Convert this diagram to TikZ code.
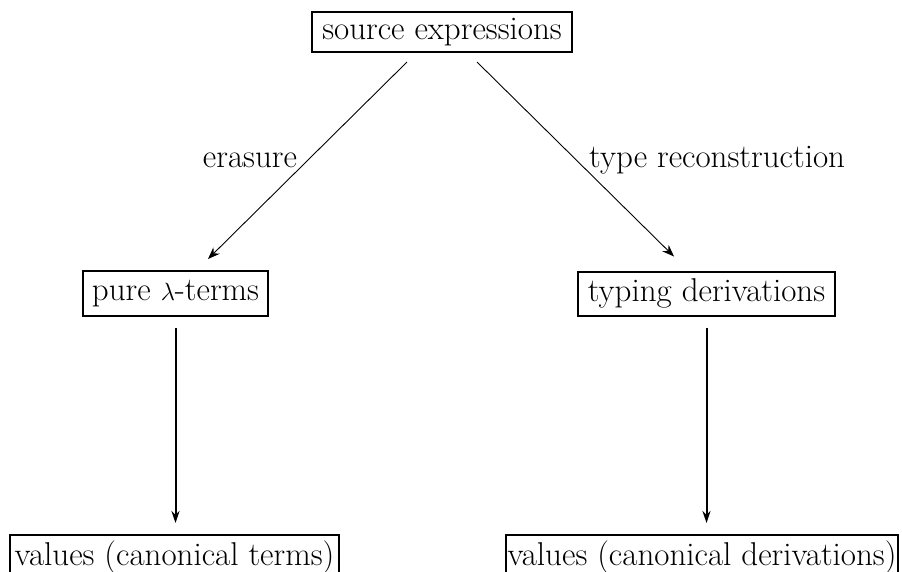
\documentclass[tikz,border=0pt]{standalone}
\usetikzlibrary{arrows.meta}
\begin{document}
\begin{tikzpicture}[x=1pt,y=-1pt,
  box/.style={draw,line width=2pt,inner sep=0pt,font=\fontsize{33}{39}\selectfont},
  lbl/.style={inner sep=0pt,font=\fontsize{33}{39}\selectfont},
  diag/.style={line width=0.9pt,-{Stealth[length=12pt,width=9pt]}},
  vert/.style={line width=2pt,-{Stealth[length=12pt,width=8pt]}}]
\useasboundingbox (0,0) rectangle (902,571);
\node[box,minimum width=260pt,minimum height=40pt] (src) at (442,32) {source expressions};
\node[box,minimum width=185pt,minimum height=45pt] (pure) at (175.5,293.5) {pure $\lambda$-terms};
\node[box,minimum width=257pt,minimum height=44pt] (typ) at (706.5,293.5) {typing derivations};
\node[box,minimum width=329pt,minimum height=45pt] (v1) at (174.5,557.5) {values (canonical terms)};
\node[box,minimum width=392pt,minimum height=45pt] (v2) at (702,557.5) {values (canonical derivations)};
\coordinate (sL) at ([xshift=-35pt,yshift=-9pt]src.south);
\coordinate (tL) at ([xshift=32.5pt,yshift=11pt]pure.north);
\coordinate (sR) at ([xshift=35pt,yshift=-9pt]src.south);
\coordinate (tR) at ([xshift=-32.5pt,yshift=14pt]typ.north);
\draw[diag] (sL) -- (tL);
\draw[diag] (sR) -- (tR);
\draw[vert,shorten <=11pt,shorten >=11pt] (pure.south) -- (pure.south |- v1.north);
\draw[vert,shorten <=11pt,shorten >=11pt] (typ.south) -- (typ.south |- v2.north);
\node[lbl,anchor=base] (er) at (250,167) {erasure};
\node[lbl,anchor=base west] (tr) at (589,167) {type reconstruction};
\end{tikzpicture}
\end{document}
